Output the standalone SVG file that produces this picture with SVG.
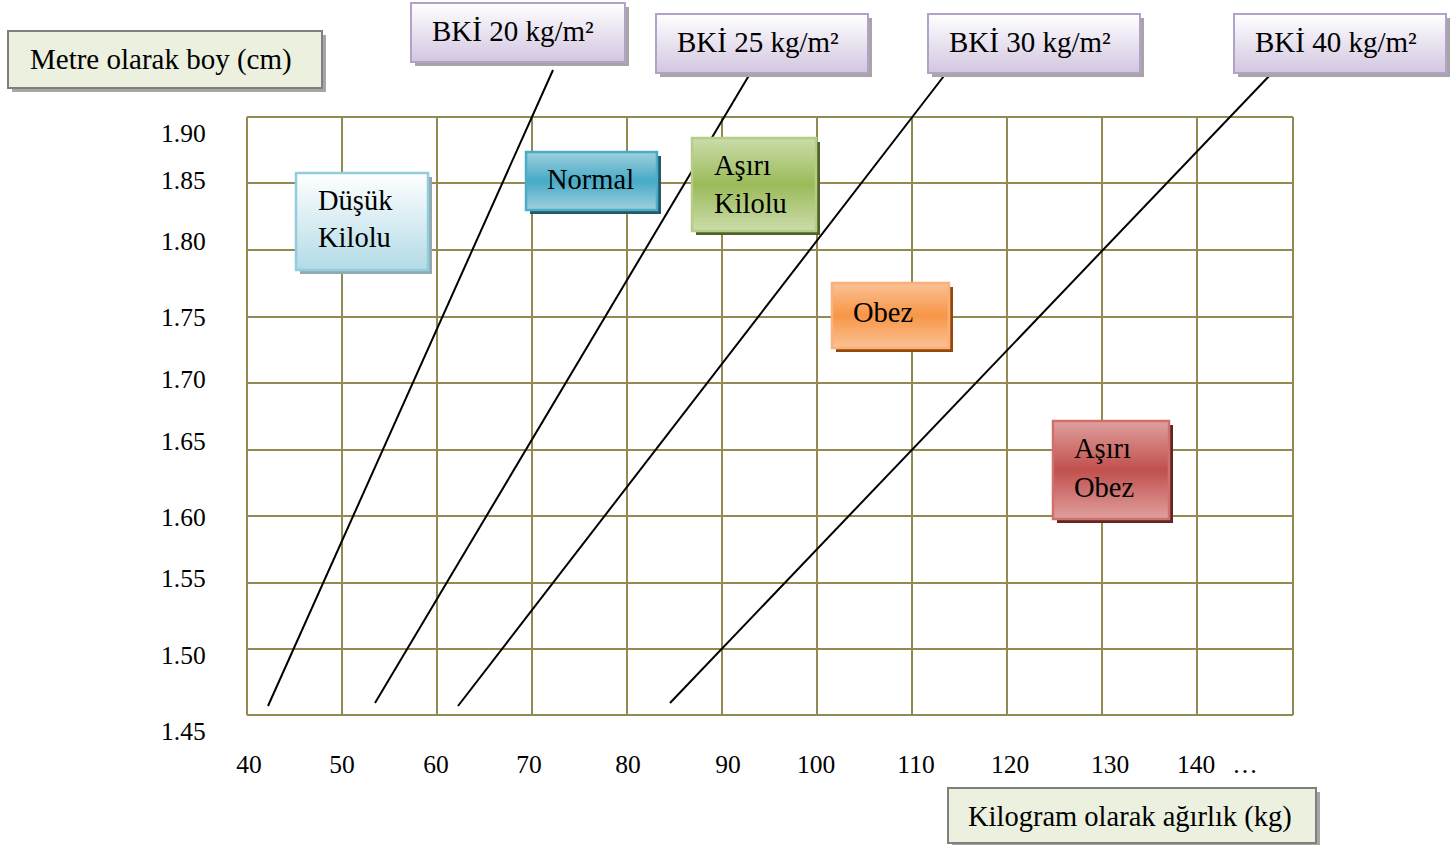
<svg xmlns="http://www.w3.org/2000/svg" width="1453" height="845" viewBox="0 0 1453 845">
  <defs>
    <linearGradient id="gPurple" x1="0" y1="0" x2="0" y2="1">
      <stop offset="0" stop-color="#ffffff"/>
      <stop offset="1" stop-color="#d2c6e0"/>
    </linearGradient>
    <linearGradient id="gLightBlue" x1="0" y1="0" x2="0" y2="1">
      <stop offset="0" stop-color="#ffffff"/>
      <stop offset="1" stop-color="#b2dbe6"/>
    </linearGradient>
    <linearGradient id="gBlue" x1="0" y1="0" x2="0" y2="1">
      <stop offset="0" stop-color="#9fd0de"/>
      <stop offset="0.5" stop-color="#46aac6"/>
      <stop offset="1" stop-color="#9fd0de"/>
    </linearGradient>
    <linearGradient id="gGreen" x1="0" y1="0" x2="0" y2="1">
      <stop offset="0" stop-color="#cbdcab"/>
      <stop offset="0.5" stop-color="#9bbb59"/>
      <stop offset="1" stop-color="#cbdcab"/>
    </linearGradient>
    <linearGradient id="gOrange" x1="0" y1="0" x2="0" y2="1">
      <stop offset="0" stop-color="#fbc196"/>
      <stop offset="0.5" stop-color="#f79646"/>
      <stop offset="1" stop-color="#fbc196"/>
    </linearGradient>
    <linearGradient id="gRed" x1="0" y1="0" x2="0" y2="1">
      <stop offset="0" stop-color="#e0a09e"/>
      <stop offset="0.5" stop-color="#c0504d"/>
      <stop offset="1" stop-color="#e0a09e"/>
    </linearGradient>
  </defs>
  <style>
    text { font-family: "Liberation Serif", "Times New Roman", serif; fill: #000; }
    .lbl { font-size: 29px; }
    .cat { font-size: 28.5px; }
    .axis { font-size: 25.5px; }
    .grid line { stroke: #938953; stroke-width: 2; }
    .bmi line { stroke: #000; stroke-width: 2; }
    .shadow { fill: #a6a6a6; }
  </style>

  <rect width="1453" height="845" fill="#ffffff"/>

  <!-- chart grid -->
  <g id="grid" class="grid">
    <line x1="247" y1="117" x2="247" y2="715"/>
    <line x1="342" y1="117" x2="342" y2="715"/>
    <line x1="437" y1="117" x2="437" y2="715"/>
    <line x1="532" y1="117" x2="532" y2="715"/>
    <line x1="627" y1="117" x2="627" y2="715"/>
    <line x1="722" y1="117" x2="722" y2="715"/>
    <line x1="817" y1="117" x2="817" y2="715"/>
    <line x1="912" y1="117" x2="912" y2="715"/>
    <line x1="1007" y1="117" x2="1007" y2="715"/>
    <line x1="1102" y1="117" x2="1102" y2="715"/>
    <line x1="1197" y1="117" x2="1197" y2="715"/>
    <line x1="1293" y1="117" x2="1293" y2="715"/>
    <line x1="247" y1="117" x2="1293" y2="117"/>
    <line x1="247" y1="183" x2="1293" y2="183"/>
    <line x1="247" y1="250" x2="1293" y2="250"/>
    <line x1="247" y1="317" x2="1293" y2="317"/>
    <line x1="247" y1="383" x2="1293" y2="383"/>
    <line x1="247" y1="450" x2="1293" y2="450"/>
    <line x1="247" y1="516" x2="1293" y2="516"/>
    <line x1="247" y1="583" x2="1293" y2="583"/>
    <line x1="247" y1="649" x2="1293" y2="649"/>
    <line x1="247" y1="715" x2="1293" y2="715"/>
  </g>

  <!-- height axis values -->
  <g id="y-axis" class="axis">
    <text x="161" y="142">1.90</text>
    <text x="161" y="189">1.85</text>
    <text x="161" y="250">1.80</text>
    <text x="161" y="326">1.75</text>
    <text x="161" y="388">1.70</text>
    <text x="161" y="450">1.65</text>
    <text x="161" y="526">1.60</text>
    <text x="161" y="587">1.55</text>
    <text x="161" y="664">1.50</text>
    <text x="161" y="740">1.45</text>
  </g>

  <!-- weight axis values -->
  <g id="x-axis" class="axis" text-anchor="middle">
    <text x="249" y="773">40</text>
    <text x="342" y="773">50</text>
    <text x="436" y="773">60</text>
    <text x="529" y="773">70</text>
    <text x="628" y="773">80</text>
    <text x="728" y="773">90</text>
    <text x="816" y="773">100</text>
    <text x="916" y="773">110</text>
    <text x="1010" y="773">120</text>
    <text x="1110" y="773">130</text>
    <text x="1196" y="773">140</text>
    <text x="1245" y="773">…</text>
  </g>

  <!-- BMI boundary lines -->
  <g id="connectors" class="bmi">
    <line x1="268" y1="706" x2="553" y2="70"/>
    <line x1="375" y1="703" x2="751" y2="72"/>
    <line x1="458" y1="706" x2="947" y2="72"/>
    <line x1="670" y1="703" x2="1273" y2="72"/>
  </g>

  <!-- axis titles -->
  <g id="title-height">
    <rect class="shadow" x="12" y="35" width="314" height="57"/>
    <rect x="8" y="31" width="314" height="57" fill="#ebf1de" stroke="#7f7f7f" stroke-width="2"/>
    <text class="lbl" x="30" y="69">Metre olarak boy (cm)</text>
  </g>
  <g id="title-weight">
    <rect class="shadow" x="952" y="792" width="368" height="55"/>
    <rect x="948" y="788" width="368" height="55" fill="#ebf1de" stroke="#7f7f7f" stroke-width="2"/>
    <text class="lbl" x="968" y="826" style="font-size:28.5px">Kilogram olarak ağırlık (kg)</text>
  </g>

  <!-- BMI labels -->
  <g id="bmi-20">
    <rect class="shadow" x="415" y="7" width="214" height="59"/>
    <rect x="411" y="3" width="214" height="59" fill="url(#gPurple)" stroke="#b3a2c7" stroke-width="2"/>
    <text class="lbl" x="432" y="41">BKİ 20 kg/m²</text>
  </g>
  <g id="bmi-25">
    <rect class="shadow" x="660" y="18" width="212" height="59"/>
    <rect x="656" y="14" width="212" height="59" fill="url(#gPurple)" stroke="#b3a2c7" stroke-width="2"/>
    <text class="lbl" x="677" y="52">BKİ 25 kg/m²</text>
  </g>
  <g id="bmi-30">
    <rect class="shadow" x="932" y="18" width="212" height="59"/>
    <rect x="928" y="14" width="212" height="59" fill="url(#gPurple)" stroke="#b3a2c7" stroke-width="2"/>
    <text class="lbl" x="949" y="52">BKİ 30 kg/m²</text>
  </g>
  <g id="bmi-40">
    <rect class="shadow" x="1238" y="18" width="212" height="59"/>
    <rect x="1234" y="14" width="212" height="59" fill="url(#gPurple)" stroke="#b3a2c7" stroke-width="2"/>
    <text class="lbl" x="1255" y="52">BKİ 40 kg/m²</text>
  </g>

  <!-- weight categories -->
  <g id="underweight">
    <rect x="300" y="177" width="132" height="97" fill="#8faab2"/>
    <rect x="296" y="173" width="132" height="97" fill="url(#gLightBlue)" stroke="#93cddd" stroke-width="2.5"/>
    <text class="cat" x="318" y="210">Düşük</text>
    <text class="cat" x="318" y="247">Kilolu</text>
  </g>
  <g id="normal">
    <rect x="530" y="156" width="131" height="58" fill="#215968"/>
    <rect x="526" y="152" width="131" height="58" fill="url(#gBlue)" stroke="#4bacc6" stroke-width="2.5"/>
    <text class="cat" x="547" y="189">Normal</text>
  </g>
  <g id="overweight">
    <rect x="696" y="142" width="124" height="93" fill="#4f6228"/>
    <rect x="692" y="138" width="124" height="93" fill="url(#gGreen)" stroke="#b5cd85" stroke-width="2.5"/>
    <text class="cat" x="714" y="175">Aşırı</text>
    <text class="cat" x="714" y="213">Kilolu</text>
  </g>
  <g id="obese">
    <rect x="836" y="287" width="117" height="65" fill="#974806"/>
    <rect x="832" y="283" width="117" height="65" fill="url(#gOrange)" stroke="#f9b07a" stroke-width="2.5"/>
    <text class="cat" x="853" y="322">Obez</text>
  </g>
  <g id="severely-obese">
    <rect x="1057" y="425" width="116" height="98" fill="#632523"/>
    <rect x="1053" y="421" width="116" height="98" fill="url(#gRed)" stroke="#d0706d" stroke-width="2.5"/>
    <text class="cat" x="1074" y="458">Aşırı</text>
    <text class="cat" x="1074" y="497">Obez</text>
  </g>
</svg>
